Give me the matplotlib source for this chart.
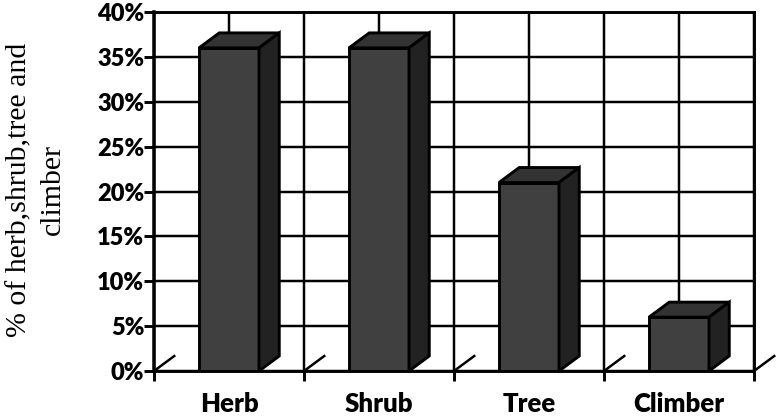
# coding=utf-8
"""Share of herb, shrub, tree and climber, drawn as fake 3D bars."""

import matplotlib
matplotlib.use('Agg')  # No display in this environment.
import matplotlib.pyplot as plt
from matplotlib.patches import Polygon

CATEGORIES = ['Herb', 'Shrub', 'Tree', 'Climber']
VALUES = [36, 36, 21, 6]
Y_TICKS = [0, 5, 10, 15, 20, 25, 30, 35, 40]
Y_LABEL = '% of herb,shrub,tree and\nclimber'

BAR_WIDTH = 0.4
DEPTH_X = 0.135
DEPTH_Y = 1.67
LW = 2.1

W, H = 776, 416
fig = plt.figure(figsize=(W / 100, H / 100), dpi=100)
ax = fig.add_axes([154 / W, 1 - 371 / H, 600 / W, 359 / H])
ax.set_xlim(0, len(CATEGORIES))
ax.set_ylim(0, 40)

centers = [i + 0.5 for i in range(len(CATEGORIES))]
edges = list(range(len(CATEGORIES) + 1))

ax.set_yticks(Y_TICKS)
ax.set_yticklabels([f'{v}%' for v in Y_TICKS], fontfamily='Lato',
                   fontweight='heavy', fontsize=17)
ax.set_xticks(edges)
ax.set_xticklabels([])
ax.set_xticks(centers, minor=True)
ax.set_xticklabels(CATEGORIES, minor=True, fontfamily='Lato',
                   fontweight='heavy', fontsize=18.5)
ax.tick_params(axis='y', length=7, width=LW, pad=0, color='black')
ax.tick_params(axis='x', which='major', length=7, width=LW)
ax.tick_params(axis='x', which='minor', length=0, pad=15)

ax.set_axisbelow(True)
ax.grid(True, which='major', color='black', linewidth=LW * 0.85)
ax.grid(True, which='minor', axis='x', color='black', linewidth=LW * 0.85)
for side in ax.spines.values():
    side.set_linewidth(LW)
ax.spines['left'].set_linewidth(LW * 1.2)

# Floor slashes of the 3D frame
for x in edges:
    ax.plot([x, x + DEPTH_X], [0, DEPTH_Y], color='black', linewidth=LW * 0.85,
            clip_on=False, zorder=2)

for center, value in zip(centers, VALUES):
    x0 = center - BAR_WIDTH / 2
    x1 = center + BAR_WIDTH / 2
    faces = [
        ([(x0, 0), (x1, 0), (x1, value), (x0, value)], '#404040'),
        ([(x0, value), (x1, value), (x1 + DEPTH_X, value + DEPTH_Y),
          (x0 + DEPTH_X, value + DEPTH_Y)], '#333333'),
        ([(x1, 0), (x1 + DEPTH_X, DEPTH_Y), (x1 + DEPTH_X, value + DEPTH_Y),
          (x1, value)], '#222222'),
    ]
    for points, color in faces:
        ax.add_patch(Polygon(points, closed=True, facecolor=color,
                             edgecolor='black', linewidth=LW,
                             joinstyle='miter', zorder=3))

fig.text(36 / W, 1 - 190 / H, Y_LABEL, rotation=90, ha='center', va='center',
         fontfamily='Liberation Serif', fontsize=21.5, linespacing=1.4,
         multialignment='center')

fig.savefig('out.png', dpi=100)
print('Wrote out.png')
